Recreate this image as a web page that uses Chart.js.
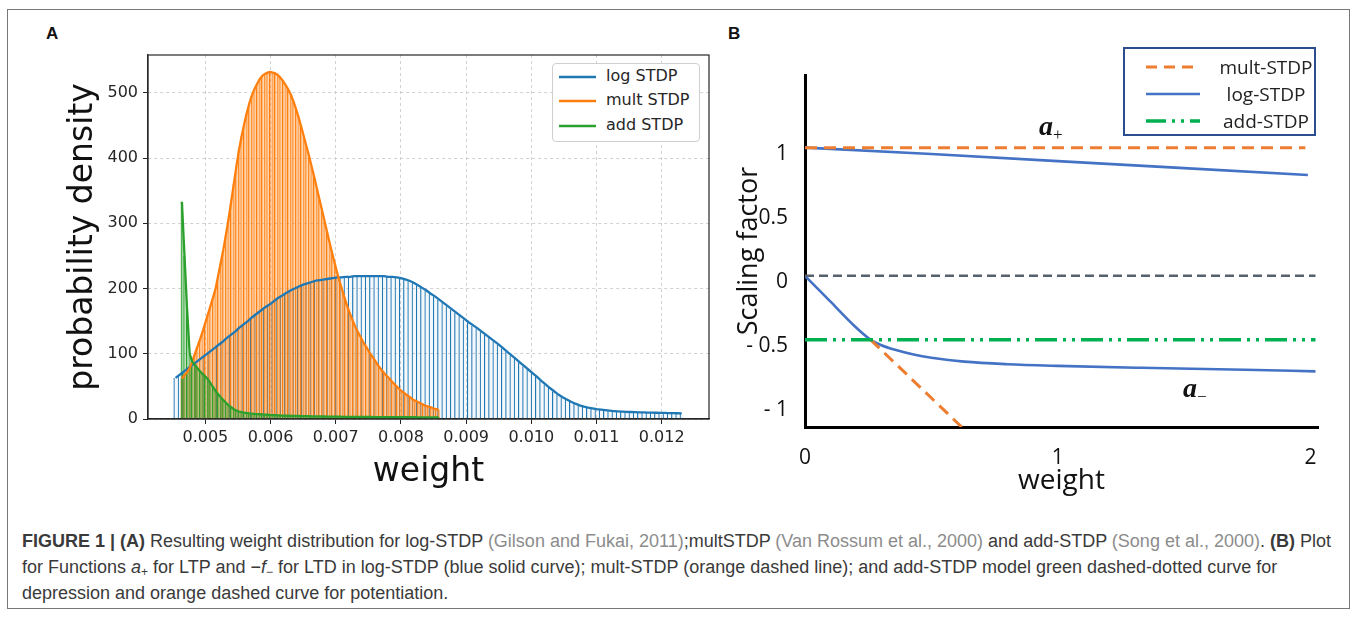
<!DOCTYPE html>
<html>
<head>
<meta charset="utf-8">
<script src="https://cdn.jsdelivr.net/npm/chart.js@4.4.1/dist/chart.umd.min.js"></script>
<style>
  html, body { margin: 0; padding: 0; background: #fff; }
  #fig { position: relative; width: 1358px; height: 617px; overflow: hidden; background: #fff; }
  .frame { position: absolute; left: 7px; top: 9px; width: 1343px; height: 600px; border: 1px solid #777; box-sizing: border-box; }
  .plabel { position: absolute; font: bold 17px "Liberation Sans", Arial, sans-serif; color: #111; }
  canvas { position: absolute; }
  .leg { position: absolute; background: #fff; box-sizing: border-box; }
  .leg .row { position: absolute; left: 0; height: 20px; }
  .leg svg { position: absolute; top: 0; }
  .leg span { position: absolute; white-space: nowrap; }
  #legA { left: 552px; top: 63px; width: 148px; height: 79px; border: 1px solid #cfcfcf; border-radius: 4px;
          font: 16px "DejaVu Sans", sans-serif; color: #262626; }
  #legB { left: 1123px; top: 47px; width: 193px; height: 89px; border: 2.5px solid #2d4e8e;
          font: 19px "Open Sans", sans-serif; color: #222; }
  .ann { position: absolute; font: bold italic 28px "Liberation Serif", "DejaVu Serif", serif; color: #111; line-height: 1; }
  .ann sub { font-size: 17px; font-style: normal; font-weight: normal; vertical-align: -5px; line-height: 0; }
  #caption { position: absolute; left: 22px; top: 528px; width: 1330px; font: 18px "Liberation Sans", Arial, sans-serif;
             line-height: 26px; color: #3a3a3a; white-space: nowrap; }
  #caption .ref { color: #8c8c8c; }
  #caption sub { font-size: 12px; line-height: 0; vertical-align: -3px; }
</style>
</head>
<body>
<div id="fig">
  <div class="frame"></div>
  <div class="plabel" style="left:46px;top:24px">A</div>
  <div class="plabel" style="left:728px;top:24px">B</div>

  <canvas id="chartA" width="725" height="500" style="left:0;top:0"></canvas>
  <div id="legA" class="leg"></div>

  <canvas id="chartB" width="638" height="500" style="left:720px;top:0"></canvas>
  <div id="legB" class="leg"></div>
  <div class="ann" style="left:1039px;top:112px">a<sub>+</sub></div>
  <div class="ann" style="left:1183px;top:374px">a<sub>−</sub></div>

  <div id="caption">
    <b>FIGURE 1 | (A)</b> Resulting weight distribution for log-STDP <span class="ref">(Gilson and Fukai, 2011)</span>;multSTDP <span class="ref">(Van Rossum et al., 2000)</span> and add-STDP <span class="ref">(Song et al., 2000)</span>. <b>(B)</b> Plot<br>
    for Functions <i>a</i><sub>+</sub> for LTP and −<i>f</i><sub>−</sub> for LTD in log-STDP (blue solid curve); mult-STDP (orange dashed line); and add-STDP model green dashed-dotted curve for<br>
    depression and orange dashed curve for potentiation.
  </div>
</div>

<script>
// ---------- panel A: weight histograms (probability density per bin) ----------
const xTicksA = [0.005, 0.006, 0.007, 0.008, 0.009, 0.010, 0.011, 0.012];
const yTicksA = [0, 100, 200, 300, 400, 500];
const xLimA = [0.00412, 0.012726];
const yLimA = [0, 558];
const labelsA = ['log STDP', 'mult STDP', 'add STDP'];
const coloursA = ['#1f77b4', '#ff7f0e', '#2ca02c'];

const logRange = [0.00451, 0.01234];
const logDensity = [
  63, 68, 73, 78, 83, 88, 93, 98, 103, 108,
  113, 118, 124, 129, 134, 140, 145, 150, 156, 161,
  166, 171, 175, 180, 185, 189, 193, 197, 200, 203,
  206, 208, 210, 212, 213, 214, 215, 216, 217, 217,
  218, 218, 219, 219, 219, 219, 219, 219, 219, 219,
  218, 218, 217, 216, 214, 212, 209, 205, 201, 197,
  192, 188, 183, 178, 173, 168, 163, 158, 153, 148,
  143.5, 139, 134, 129, 124, 119, 114, 108.5, 103, 97.5,
  92, 86.5, 81, 75.5, 70, 64.5, 58.5, 53, 47.5, 42.5,
  37.5, 33.5, 30, 26.5, 23.5, 21, 19, 17.5, 16.3, 15.2,
  14.3, 13.5, 12.8, 12.2, 11.7, 11.3, 11, 10.7, 10.5, 10.3,
  10.1, 9.9, 9.8, 9.6, 9.5, 9.3, 9.1, 9, 8.8, 8.6
];

const multRange = [0.00462, 0.0086];
const multDensity = [
  62, 67, 72, 78, 88, 100, 111, 122, 134, 147,
  160, 173, 186, 200, 220, 240, 260, 283, 307, 333,
  360, 387, 412, 433, 452, 469, 484, 496, 506, 514,
  521, 526, 529, 531, 532, 531, 530, 527, 523, 518,
  512, 505, 497, 487, 475, 462, 448, 433, 418, 403,
  387, 371, 354, 337, 320, 303, 286, 269, 253, 237,
  222, 208, 195, 182, 170, 159, 149, 140, 132, 124.5,
  117, 111, 104, 98, 92, 86, 80, 75, 70, 66,
  62, 57, 53, 49, 45, 42, 39, 36, 33, 30,
  28, 26, 24, 22, 20, 19, 18, 16, 15, 14
];

const addRange = [0.00462, 0.0086];
const addDensity = [
  333, 250, 168, 100, 88, 83, 78, 73, 69, 65,
  61, 55, 49, 43, 38, 33, 29, 25, 21, 18,
  15, 13, 11.5, 10.5, 9.8, 9.2, 8.7, 8.3, 7.9, 7.6,
  7.3, 7, 6.7, 6.5, 6.2, 6, 5.8, 5.6, 5.4, 5.2,
  5.1, 5, 4.9, 4.8, 4.7, 4.6, 4.5, 4.4, 4.3, 4.2,
  4.1, 4, 3.9, 3.9, 3.8, 3.8, 3.7, 3.7, 3.6, 3.6,
  3.5, 3.5, 3.4, 3.4, 3.4, 3.3, 3.3, 3.3, 3.2, 3.2,
  3.2, 3.1, 3.1, 3.1, 3, 3, 3, 3, 2.9, 2.9,
  2.9, 2.9, 2.8, 2.8, 2.8, 2.8, 2.7, 2.7, 2.7, 2.7,
  2.7, 2.6, 2.6, 2.6, 2.6, 2.6, 2.5, 2.5, 2.5, 2.5
];

// ---------- panel B: scaling factors vs weight ----------
const xTicksB = [0, 1, 2];
const yTicksB = [-1, -0.5, 0, 0.5, 1];
const yTickTextB = ['- 1', '- 0.5', '0', '0.5', '1'];
const xLimB = [0, 2.03];
const yLimB = [-1.18, 1.567];

const multPlusX = [0, 1.98];
const multPlusY = [1, 1];
const logPlusX = [0, 0.5, 1, 1.5, 1.99];
const logPlusY = [1.0, 0.95, 0.895, 0.84, 0.787];
const zeroX = [0, 2.02];
const zeroY = [0, 0];
const addMinusX = [0, 2.02];
const addMinusY = [-0.5, -0.5];
const logMinusX = [0, 0.1, 0.2, 0.26, 0.3, 0.36, 0.43, 0.5, 0.63, 0.8, 1.0, 1.33, 1.74, 2.02];
const logMinusY = [0, -0.2, -0.4, -0.5, -0.54, -0.58, -0.615, -0.64, -0.67, -0.69, -0.703, -0.718, -0.733, -0.746];
const multMinusX = [0.26, 0.62];
const multMinusY = [-0.5, -1.18];

const labelsB = ['mult-STDP', 'log-STDP', 'add-STDP'];
const orangeB = '#ed7d31', blueB = '#4472c4', greenB = '#00b050', greyB = '#56606e';

// ---------- helpers ----------
function binPoints(range, vals) {
  const w = (range[1] - range[0]) / vals.length;
  return vals.map((v, i) => ({ x: range[0] + (i + 0.5) * w, y: v }));
}
function xyPoints(xs, ys) {
  return xs.map((x, i) => ({ x: x, y: ys[i] }));
}
const fixTicks = vals => scale => { scale.ticks = vals.map(v => ({ value: v })); };

// box around the plot area (matplotlib spines)
const spines = {
  id: 'spines',
  afterDatasetsDraw(chart) {
    const a = chart.chartArea, ctx = chart.ctx;
    ctx.save();
    ctx.strokeStyle = '#262626';
    ctx.lineWidth = 1.2;
    ctx.strokeRect(a.left, a.top, a.right - a.left, a.bottom - a.top);
    ctx.restore();
  }
};

// ---------- chart A ----------
const hists = [
  { range: logRange, vals: logDensity, fill: 'rgba(31,119,180,0.05)' },
  { range: multRange, vals: multDensity, fill: 'rgba(255,127,14,0.5)' },
  { range: addRange, vals: addDensity, fill: 'rgba(44,160,44,0.45)' }
];

const dsA = [];
hists.forEach((h, k) => {
  dsA.push({
    type: 'bar', data: binPoints(h.range, h.vals), backgroundColor: h.fill, borderColor: coloursA[k],
    borderWidth: { left: 1.2, right: 0, top: 0, bottom: 0 }, borderSkipped: false, inflateAmount: 0,
    grouped: false, barPercentage: 1, categoryPercentage: 1, order: 6 - k
  });
});
hists.forEach((h, k) => {
  dsA.push({
    type: 'line', data: binPoints(h.range, h.vals), borderColor: coloursA[k], borderWidth: 2.3,
    pointRadius: 0, fill: false, tension: 0, order: 3 - k
  });
});

const tickFontA = { family: 'DejaVu Sans', size: 16 };
const cfgA = {
  type: 'bar',
  options: {
    responsive: false, animation: false, events: [],
    layout: { padding: { top: 55, right: 16, left: 0, bottom: 0 } },
    plugins: { legend: { display: false }, tooltip: { enabled: false } },
    scales: {
      x: {
        type: 'linear', min: xLimA[0], max: xLimA[1], offset: false,
        afterBuildTicks: fixTicks(xTicksA),
        afterFit: s => { s.height = 81; },
        grid: { offset: false, color: '#cccccc', lineWidth: 0.9, tickColor: '#262626', tickLength: 5, tickWidth: 1 },
        border: { display: true, color: '#262626', width: 1.2, dash: [3, 3] },
        ticks: { font: tickFontA, color: '#262626', padding: 4, maxRotation: 0, callback: v => v.toFixed(3) },
        title: { display: true, text: 'weight', font: { family: 'DejaVu Sans', size: 33 }, color: '#111', padding: { top: 0, bottom: 8 } }
      },
      y: {
        type: 'linear', min: yLimA[0], max: yLimA[1],
        afterBuildTicks: fixTicks(yTicksA),
        afterFit: s => { s.width = 148; },
        grid: { color: '#cccccc', lineWidth: 0.9, tickColor: '#262626', tickLength: 5, tickWidth: 1 },
        border: { display: true, color: '#262626', width: 1.2, dash: [3, 3] },
        ticks: { font: tickFontA, color: '#262626', padding: 5 },
        title: { display: true, text: 'probability density', font: { family: 'DejaVu Sans', size: 33 }, color: '#111', padding: { top: 64, bottom: 0 } }
      }
    }
  },
  plugins: [spines]
};
cfgA.data = { datasets: dsA };
const chartA = new Chart(document.getElementById('chartA'), cfgA);

// bar width = one histogram bin, measured on the chart's own x scale
(function fitBars() {
  const xs = chartA.scales.x;
  hists.forEach((h, k) => {
    const w = (h.range[1] - h.range[0]) / h.vals.length;
    chartA.data.datasets[k].barThickness = Math.abs(xs.getPixelForValue(h.range[0] + w) - xs.getPixelForValue(h.range[0]));
  });
  chartA.update('none');
})();

// ---------- chart B ----------
const lineB = (xs, ys, colour, width, dash, extra) => {
  const ds = { type: 'line', borderColor: colour, borderWidth: width, borderDash: dash, pointRadius: 0, fill: false, tension: 0 };
  ds.data = xyPoints(xs, ys);
  return Object.assign(ds, extra || {});
};

const cfgB = {
  type: 'line',
  options: {
    responsive: false, animation: false, events: [],
    layout: { padding: { top: 75, right: 40, left: 0, bottom: 0 } },
    plugins: { legend: { display: false }, tooltip: { enabled: false } },
    scales: {
      x: {
        type: 'linear', min: xLimB[0], max: xLimB[1],
        afterBuildTicks: fixTicks(xTicksB),
        afterFit: s => { s.height = 73; },
        grid: { display: false },
        border: { display: true, color: '#000', width: 3 },
        ticks: { font: { family: 'Open Sans', size: 21 }, color: '#111', padding: 10, maxRotation: 0 },
        title: { display: true, text: 'weight', font: { family: 'Open Sans', size: 28 }, color: '#111', padding: { top: 0, bottom: 2 } }
      },
      y: {
        type: 'linear', min: yLimB[0], max: yLimB[1],
        afterBuildTicks: fixTicks(yTicksB),
        afterFit: s => { s.width = 85; },
        grid: { display: false },
        border: { display: true, color: '#000', width: 3 },
        ticks: { font: { family: 'Open Sans', size: 21 }, color: '#111', padding: 9, labelOffset: 6,
                 callback: v => yTickTextB[yTicksB.indexOf(v)] },
        title: { display: true, text: 'Scaling factor', font: { family: 'Open Sans', size: 27 }, color: '#111', padding: { top: 13, bottom: 0 } }
      }
    }
  }
};
cfgB.data = {
  datasets: [
    lineB(zeroX, zeroY, greyB, 2.5, [9, 5]),
    lineB(addMinusX, addMinusY, greenB, 3.5, [22, 6, 3, 6, 3, 6]),
    lineB(multPlusX, multPlusY, orangeB, 3, [12, 7]),
    lineB(multMinusX, multMinusY, orangeB, 3, [12, 7]),
    lineB(logPlusX, logPlusY, blueB, 2.6, []),
    lineB(logMinusX, logMinusY, blueB, 2.6, [], { cubicInterpolationMode: 'monotone' })
  ]
};
const chartB = new Chart(document.getElementById('chartB'), cfgB);

// ---------- HTML legends ----------
function buildLegend(el, labels, rows, sample, textLeft, textCenter) {
  labels.forEach((lab, i) => {
    const r = rows[i];
    const row = document.createElement('div');
    row.className = 'row';
    row.style.top = (r.y - 10) + 'px';
    row.style.width = '100%';
    row.innerHTML = `<svg style="left:${sample[0]}px" width="${sample[1] - sample[0]}" height="20">
        <line x1="0" y1="10" x2="${sample[1] - sample[0]}" y2="10" stroke="${r.colour}" stroke-width="${r.width}"
              stroke-dasharray="${r.dash}"/></svg>` +
      (textCenter ? `<span style="left:${textLeft}px;width:110px;text-align:center;top:-3px">${lab}</span>`
                  : `<span style="left:${textLeft}px;top:-1px">${lab}</span>`);
    el.appendChild(row);
  });
}
buildLegend(document.getElementById('legA'), labelsA,
  coloursA.map((c, i) => ({ colour: c, width: 2.5, dash: 'none', y: [13, 37, 62][i] })),
  [6, 43], 53, false);
buildLegend(document.getElementById('legB'), labelsB,
  [{ colour: orangeB, width: 3, dash: '11 7', y: 18 },
   { colour: blueB, width: 2.6, dash: 'none', y: 45 },
   { colour: greenB, width: 3.5, dash: '20 6 3 6 3 6', y: 72 }],
  [21, 75], 86, true);
</script>
</body>
</html>
